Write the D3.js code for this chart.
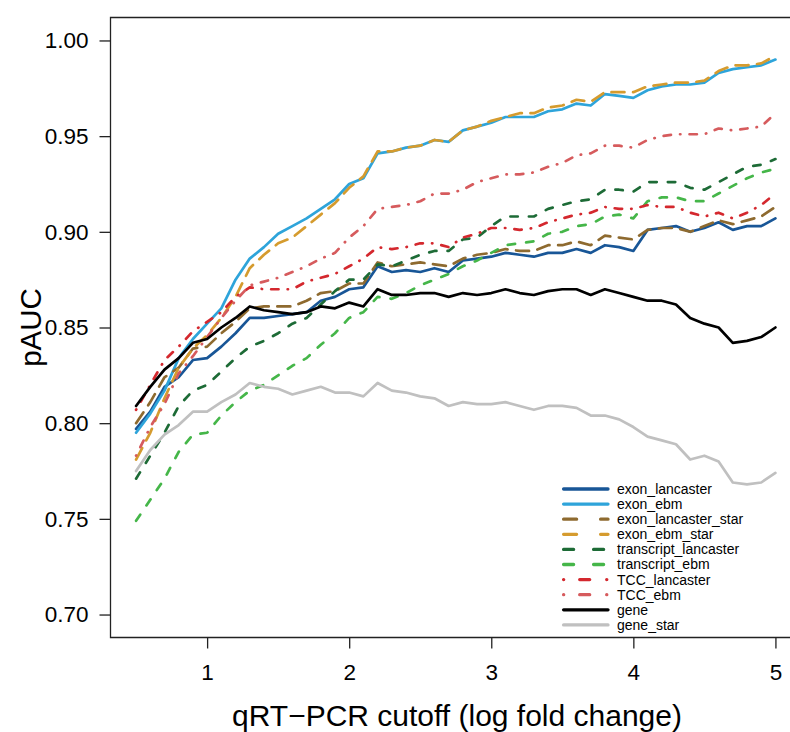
<!DOCTYPE html>
<html>
<head>
<meta charset="utf-8">
<script src="https://cdn.jsdelivr.net/npm/d3@7"></script>
<style>
  html, body { margin: 0; padding: 0; background: #fff; }
  svg { display: block; overflow: hidden; }
  text { font-family: "Liberation Sans", Arial, Helvetica, sans-serif; fill: #000; }
</style>
</head>
<body>
<svg id="chart" width="790" height="732"></svg>
<script>
// ---------------- data ----------------
const cutoffs = [0.5,0.6,0.7,0.8,0.9,1.0,1.1,1.2,1.3,1.4,1.5,1.6,1.7,1.8,1.9,2.0,2.1,2.2,2.3,2.4,2.5,2.6,2.7,2.8,2.9,3.0,3.1,3.2,3.3,3.4,3.5,3.6,3.7,3.8,3.9,4.0,4.1,4.2,4.3,4.4,4.5,4.6,4.7,4.8,4.9,5.0];

const seriesNames = ["exon_lancaster","exon_ebm","exon_lancaster_star","exon_ebm_star","transcript_lancaster","transcript_ebm","TCC_lancaster","TCC_ebm","gene","gene_star"];

const exon_lancaster = [0.797,0.806,0.819,0.824,0.833,0.834,0.840,0.847,0.855,0.855,0.856,0.857,0.858,0.864,0.866,0.870,0.871,0.882,0.879,0.880,0.879,0.881,0.879,0.885,0.886,0.887,0.889,0.888,0.887,0.889,0.889,0.891,0.889,0.893,0.892,0.890,0.901,0.902,0.903,0.900,0.902,0.905,0.901,0.903,0.903,0.907];
const exon_ebm = [0.795,0.805,0.817,0.834,0.844,0.852,0.860,0.875,0.886,0.892,0.899,0.903,0.907,0.912,0.917,0.925,0.928,0.941,0.942,0.944,0.945,0.948,0.947,0.953,0.955,0.957,0.960,0.960,0.960,0.963,0.964,0.967,0.966,0.972,0.971,0.970,0.974,0.976,0.977,0.977,0.978,0.983,0.985,0.986,0.987,0.990];
const exon_lancaster_star = [0.800,0.811,0.824,0.829,0.839,0.840,0.847,0.853,0.860,0.861,0.861,0.861,0.864,0.868,0.869,0.873,0.873,0.884,0.882,0.883,0.884,0.883,0.882,0.886,0.888,0.889,0.891,0.890,0.890,0.893,0.893,0.895,0.893,0.898,0.897,0.896,0.901,0.902,0.902,0.900,0.903,0.906,0.904,0.906,0.908,0.913];
const exon_ebm_star = [0.781,0.795,0.813,0.829,0.839,0.846,0.855,0.866,0.881,0.888,0.894,0.897,0.903,0.909,0.915,0.923,0.929,0.942,0.942,0.944,0.945,0.948,0.947,0.953,0.955,0.958,0.960,0.962,0.962,0.965,0.966,0.969,0.968,0.973,0.973,0.973,0.976,0.977,0.978,0.978,0.979,0.984,0.987,0.987,0.988,0.992];
const transcript_lancaster = [0.771,0.783,0.795,0.809,0.817,0.820,0.827,0.834,0.840,0.843,0.847,0.852,0.855,0.862,0.869,0.875,0.875,0.883,0.882,0.885,0.888,0.890,0.890,0.896,0.897,0.903,0.908,0.908,0.908,0.912,0.914,0.916,0.917,0.922,0.922,0.921,0.926,0.926,0.926,0.923,0.922,0.926,0.930,0.934,0.935,0.938];
const transcript_ebm = [0.749,0.760,0.771,0.785,0.794,0.795,0.804,0.811,0.817,0.820,0.825,0.830,0.834,0.841,0.847,0.855,0.858,0.866,0.865,0.868,0.872,0.875,0.878,0.882,0.885,0.889,0.893,0.894,0.895,0.899,0.900,0.903,0.904,0.908,0.909,0.907,0.916,0.918,0.918,0.916,0.916,0.920,0.924,0.928,0.931,0.933];
const TCC_lancaster = [0.807,0.820,0.833,0.840,0.848,0.853,0.858,0.866,0.871,0.870,0.870,0.870,0.874,0.876,0.878,0.882,0.886,0.892,0.891,0.892,0.894,0.894,0.892,0.897,0.899,0.902,0.902,0.901,0.902,0.905,0.907,0.909,0.910,0.913,0.912,0.912,0.914,0.913,0.913,0.910,0.908,0.910,0.907,0.910,0.914,0.920];
const TCC_ebm = [0.783,0.798,0.810,0.826,0.835,0.845,0.855,0.864,0.872,0.874,0.876,0.879,0.882,0.886,0.889,0.897,0.903,0.912,0.913,0.914,0.916,0.920,0.920,0.922,0.926,0.928,0.930,0.930,0.931,0.934,0.936,0.940,0.941,0.945,0.945,0.944,0.948,0.950,0.951,0.951,0.951,0.954,0.953,0.954,0.955,0.962];
const gene = [0.809,0.819,0.828,0.834,0.842,0.844,0.850,0.855,0.861,0.859,0.858,0.857,0.858,0.861,0.860,0.863,0.861,0.870,0.867,0.867,0.868,0.868,0.866,0.868,0.867,0.868,0.870,0.868,0.867,0.869,0.870,0.870,0.867,0.870,0.868,0.866,0.864,0.864,0.862,0.855,0.852,0.850,0.842,0.843,0.845,0.850];
const gene_star = [0.775,0.786,0.794,0.799,0.806,0.806,0.811,0.815,0.821,0.819,0.818,0.815,0.817,0.819,0.816,0.816,0.814,0.821,0.817,0.816,0.814,0.813,0.809,0.811,0.810,0.810,0.811,0.809,0.807,0.809,0.809,0.808,0.804,0.804,0.802,0.798,0.793,0.791,0.789,0.781,0.783,0.780,0.769,0.768,0.769,0.774];

const yTicks = [0.70,0.75,0.80,0.85,0.90,0.95,1.00];
const xTicks = [1,2,3,4,5];

// ---------------- styles ----------------
const seriesValues = [exon_lancaster, exon_ebm, exon_lancaster_star, exon_ebm_star, transcript_lancaster, transcript_ebm, TCC_lancaster, TCC_ebm, gene, gene_star];
const colors = ["#185697","#2ea4da","#8e6a2f","#d59b2e","#1d6b36","#45b649","#d4282e","#d65b5d","#000000","#c0c0c0"];
const lineDash = [null,null,"13,8.6","13,8.6","7.4,11.1","7.4,11.1","0.4,9.1,7.4,9.1","0.4,9.1,7.4,9.1",null,null];
const legendDash = [null,null,"13,24","13,24","10,20","10,20","0.1,16,10,17","0.1,16,10,17",null,null];

// ---------------- chart ----------------
const svg = d3.select("#chart");
const x = d3.scaleLinear().domain([0.32, 5.18]).range([110.5, 801]);
const y = d3.scaleLinear().domain([0.688, 1.012]).range([637.5, 17.5]);

// box
svg.append("path")
  .attr("d", `M801,17.5 H110.5 V637.5 H801`)
  .attr("fill", "none").attr("stroke", "#222").attr("stroke-width", 1.3);

// y axis
const yAxis = svg.append("g").attr("transform", "translate(110.5,0)")
  .call(d3.axisLeft(y).tickValues(yTicks).tickFormat(d3.format(".2f")).tickSize(11).tickPadding(11));
yAxis.select(".domain").remove();
yAxis.selectAll(".tick line").attr("stroke", "#222").attr("stroke-width", 1.3);
yAxis.selectAll(".tick text").attr("font-size", 22.5).attr("font-family", "Liberation Sans, Arial, sans-serif").attr("fill", "#000");

// x axis
const xAxis = svg.append("g").attr("transform", "translate(0,637.5)")
  .call(d3.axisBottom(x).tickValues(xTicks).tickFormat(d3.format("d")).tickSize(11).tickPadding(16));
xAxis.select(".domain").remove();
xAxis.selectAll(".tick line").attr("stroke", "#222").attr("stroke-width", 1.3);
xAxis.selectAll(".tick text").attr("font-size", 22.5).attr("font-family", "Liberation Sans, Arial, sans-serif").attr("fill", "#000");

// titles
svg.append("text")
  .attr("transform", "translate(41,327.5) rotate(-90)")
  .attr("text-anchor", "middle").attr("font-size", 29.5)
  .text("pAUC");
svg.append("text")
  .attr("x", 457).attr("y", 726)
  .attr("text-anchor", "middle").attr("font-size", 30)
  .text("qRT\u2212PCR cutoff (log fold change)");

// lines
const line = d3.line().x((d, i) => x(cutoffs[i])).y(d => y(d));
const gLines = svg.append("g");
seriesNames.forEach((name, k) => {
  gLines.append("path")
    .datum(seriesValues[k])
    .attr("d", line)
    .attr("fill", "none")
    .attr("stroke", colors[k])
    .attr("stroke-width", 2.7)
    .attr("stroke-linejoin", "round")
    .attr("stroke-linecap", "round")
    .attr("stroke-dasharray", lineDash[k]);
});

// legend (evenly spaced rows)
const legendTop = 489, legendStep = 15.1;
const gLeg = svg.append("g");
seriesNames.forEach((name, k) => {
  const yy = legendTop + k * legendStep;
  gLeg.append("line")
    .attr("x1", 563.6).attr("x2", 608).attr("y1", yy).attr("y2", yy)
    .attr("stroke", colors[k]).attr("stroke-width", 3.3)
    .attr("stroke-linecap", "round")
    .attr("stroke-dasharray", legendDash[k]);
  gLeg.append("text")
    .attr("x", 617).attr("y", yy).attr("dy", "0.35em")
    .attr("font-size", 14)
    .text(name);
});
</script>
</body>
</html>
